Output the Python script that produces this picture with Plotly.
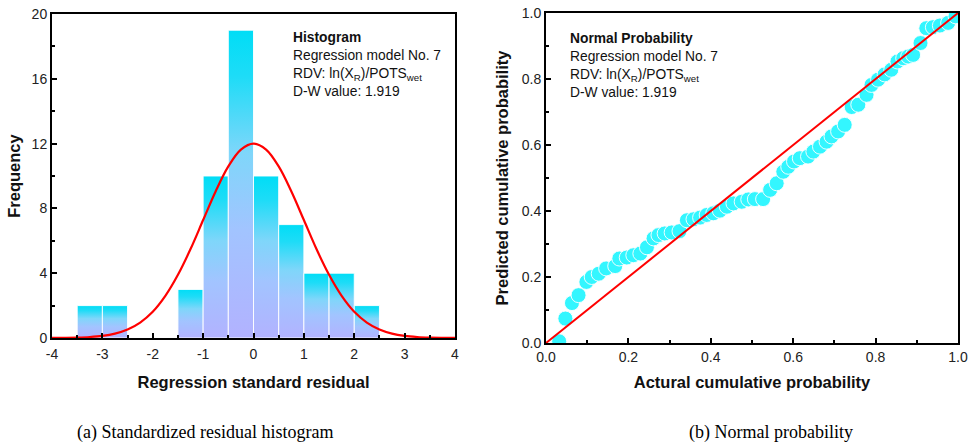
import plotly.graph_objects as go

# ---------------- data ----------------
bin_left = [-3.5, -3.0, -2.5, -2.0, -1.5, -1.0, -0.5, 0.0, 0.5, 1.0, 1.5, 2.0]
bin_width = 0.5
counts = [2, 2, 0, 0, 3, 10, 19, 10, 7, 4, 4, 2]

curve_x = [-4.0, -3.75, -3.5, -3.25, -3.0, -2.75, -2.5, -2.25, -2.0, -1.75, -1.5, -1.25, -1.0,
           -0.75, -0.5, -0.25, 0.0, 0.25, 0.5, 0.75, 1.0, 1.25, 1.5, 1.75, 2.0, 2.25, 2.5,
           2.75, 3.0, 3.25, 3.5, 3.75, 4.0]
curve_y = [0.004, 0.011, 0.026, 0.061, 0.133, 0.273, 0.527, 0.955, 1.62, 2.60, 3.90, 5.49, 7.28,
           9.06, 10.59, 11.63, 12.0, 11.63, 10.59, 9.06, 7.28, 5.49, 3.90, 2.60, 1.62, 0.955, 0.527,
           0.273, 0.133, 0.061, 0.026, 0.011, 0.004]

hist_xticks = [-4, -3, -2, -1, 0, 1, 2, 3, 4]
hist_xticklabels = ["-4", "-3", "-2", "-1", "0", "1", "2", "3", "4"]

actual_p = [0.032, 0.047, 0.063, 0.079, 0.098, 0.111, 0.128, 0.146, 0.168, 0.178,
            0.196, 0.212, 0.229, 0.245, 0.261, 0.273, 0.288, 0.305, 0.324, 0.342,
            0.358, 0.374, 0.390, 0.406, 0.422, 0.439, 0.455, 0.475, 0.491, 0.507,
            0.527, 0.544, 0.560, 0.576, 0.588, 0.602, 0.616, 0.636, 0.649, 0.665,
            0.681, 0.693, 0.709, 0.725, 0.742, 0.758, 0.778, 0.790, 0.806, 0.822,
            0.838, 0.853, 0.867, 0.879, 0.891, 0.909, 0.923, 0.939, 0.956, 0.976, 0.994]
pred_p = [0.005, 0.074, 0.121, 0.145, 0.185, 0.200, 0.210, 0.226, 0.233, 0.256,
          0.259, 0.266, 0.271, 0.290, 0.317, 0.327, 0.332, 0.335, 0.339, 0.372,
          0.375, 0.380, 0.388, 0.393, 0.401, 0.413, 0.423, 0.428, 0.435, 0.436,
          0.436, 0.464, 0.484, 0.519, 0.534, 0.550, 0.560, 0.565, 0.580, 0.595,
          0.610, 0.626, 0.641, 0.661, 0.715, 0.722, 0.752, 0.782, 0.798, 0.814,
          0.828, 0.853, 0.863, 0.868, 0.873, 0.909, 0.954, 0.957, 0.962, 0.970, 0.990]
ref_line = [0.0, 1.0]

# ---------------- figure ----------------
FONT = "Liberation Sans, Arial, sans-serif"
fig = go.Figure()

grad_scale = [[0.0, "#B2B2FF"], [0.35, "#A2C4FF"], [0.6, "#7FD6FA"], [0.85, "#1EDCF7"], [1.0, "#00DDF6"]]

for xl, c in zip(bin_left, counts):
    if c <= 0:
        continue
    xs = [xl, xl, xl + bin_width, xl + bin_width, xl]
    ys = [0, c, c, 0, 0]
    fig.add_trace(go.Scatter(
        x=xs, y=ys, mode="lines", fill="toself",
        fillgradient=dict(type="vertical", colorscale=grad_scale, start=0, stop=c),
        line=dict(color="rgba(255,255,255,0.9)", width=1),
        xaxis="x", yaxis="y", showlegend=False, hoverinfo="skip"))

fig.add_trace(go.Scatter(x=curve_x, y=curve_y, mode="lines", line=dict(color="#FF0000", width=2.2, shape="spline"),
                         xaxis="x", yaxis="y", showlegend=False))

fig.add_trace(go.Scatter(x=actual_p, y=pred_p, mode="markers",
                         marker=dict(size=15, color="#33F6FF", line=dict(color="rgba(255,255,255,0.9)", width=1)),
                         xaxis="x2", yaxis="y2", showlegend=False))
fig.add_trace(go.Scatter(x=ref_line, y=ref_line, mode="lines", line=dict(color="#FF0000", width=2),
                         xaxis="x2", yaxis="y2", showlegend=False))

W, H = 970, 443
axis_common = dict(showline=True, linecolor="black", linewidth=2, mirror=True, ticks="inside",
                   ticklen=5, tickwidth=2, tickcolor="black", showgrid=False, zeroline=False,
                   automargin=False,
                   tickfont=dict(family=FONT, size=14, color="#222"))
title_font = dict(family=FONT, size=16.5, color="#111")

fig.update_layout(
    width=W, height=H, margin=dict(l=0, r=0, t=0, b=0),
    paper_bgcolor="white", plot_bgcolor="white",
    xaxis=dict(domain=[52 / W, 455 / W], range=[-4, 4], tickvals=hist_xticks, ticktext=hist_xticklabels,
               anchor="y", ticklabelstandoff=2,
               minor=dict(ticks="inside", ticklen=3, tickwidth=2, dtick=0.5, tickcolor="black"),
               title=dict(text="<b>Regression standard residual</b>", font=title_font, standoff=16),
               **axis_common),
    yaxis=dict(domain=[(H - 338) / H, (H - 14) / H], range=[0, 20], dtick=4, anchor="x",
               minor=dict(ticks="inside", ticklen=3, tickwidth=2, dtick=2, tickcolor="black"),
               title=dict(text="<b>Frequency</b>", font=title_font, standoff=7),
               **axis_common),
    xaxis2=dict(domain=[546 / W, 958 / W], range=[0, 1], dtick=0.2, tickformat=".1f", anchor="y2",
                minor=dict(ticks="inside", ticklen=3, tickwidth=2, dtick=0.1, tickcolor="black"),
                title=dict(text="<b>Actural cumulative probability</b>", font=title_font, standoff=13),
                **axis_common),
    yaxis2=dict(domain=[(H - 343) / H, (H - 13) / H], range=[0, 1], dtick=0.2, tickformat=".1f", anchor="x2",
                minor=dict(ticks="inside", ticklen=3, tickwidth=2, dtick=0.1, tickcolor="black"),
                title=dict(text="<b>Predicted cumulative probability</b>", font=title_font, standoff=9),
                **axis_common),
)

info_lines = ["Regression model No. 7", "RDV: ln(X<sub>R</sub>)/POTS<sub>wet</sub>", "D-W value: 1.919"]
fig.add_annotation(xref="paper", yref="paper", x=291 / W, y=(H - 28) / H, xanchor="left", yanchor="top",
                   align="left", showarrow=False,
                   text="<b>Histogram</b><br>" + "<br>".join(info_lines),
                   font=dict(family=FONT, size=13.8, color="#111"))
fig.add_annotation(xref="paper", yref="paper", x=568 / W, y=(H - 29) / H, xanchor="left", yanchor="top",
                   align="left", showarrow=False,
                   text="<b>Normal Probability</b><br>" + "<br>".join(info_lines),
                   font=dict(family=FONT, size=13.8, color="#111"))

fig.add_annotation(xref="paper", yref="paper", x=205 / W, y=(H - 432) / H, xanchor="center", yanchor="middle",
                   showarrow=False, text="(a) Standardized residual histogram",
                   font=dict(family="Liberation Serif, Times New Roman, serif", size=18, color="black"))
fig.add_annotation(xref="paper", yref="paper", x=771 / W, y=(H - 432) / H, xanchor="center", yanchor="middle",
                   showarrow=False, text="(b) Normal probability",
                   font=dict(family="Liberation Serif, Times New Roman, serif", size=18, color="black"))

fig.write_html("out.html", config={"displayModeBar": False},
               post_script="document.body.style.margin='0px';document.body.style.overflow='hidden';")
